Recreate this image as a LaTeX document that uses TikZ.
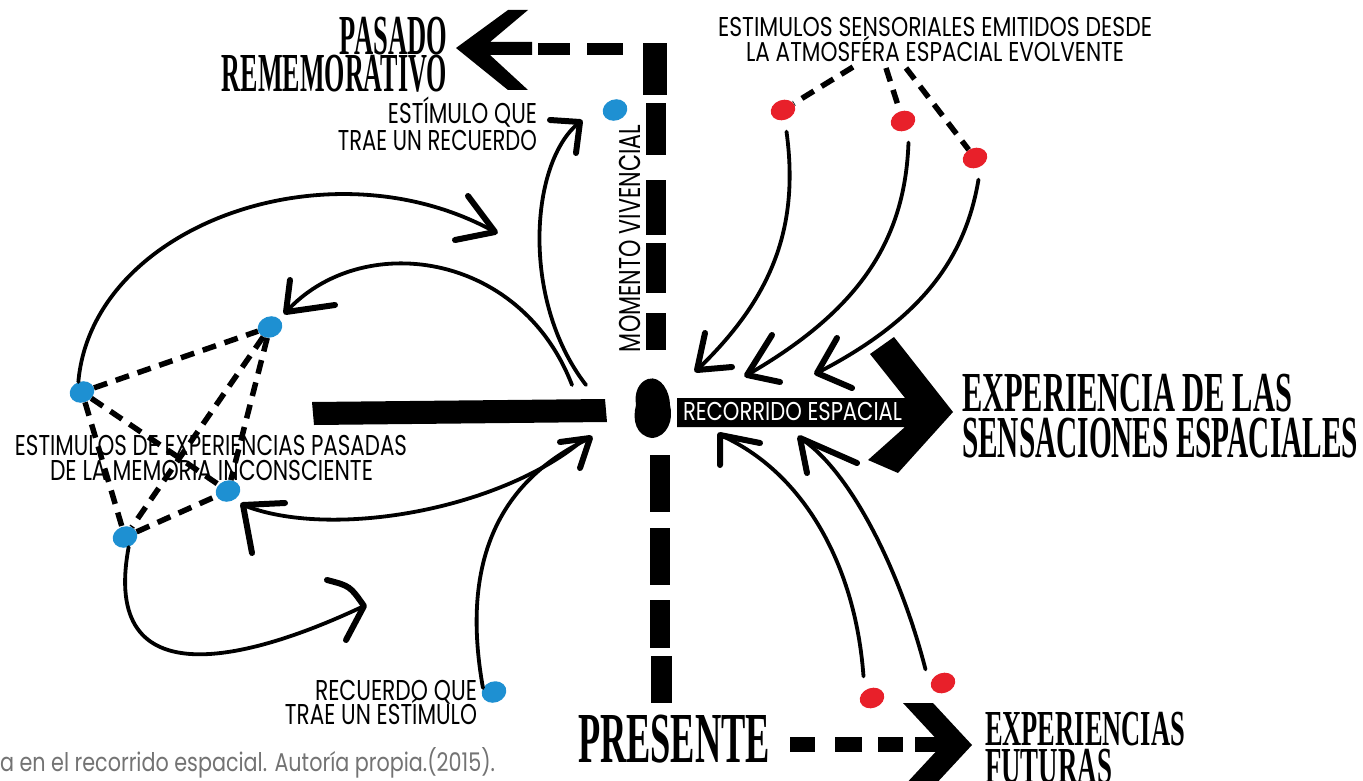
\documentclass[tikz,border=0pt]{standalone}
\usepackage{fontspec}
\usepackage{graphicx}
\newfontfamily\labelfont{Poppins}
\newfontfamily\titlefont{Liberation Serif}
\usetikzlibrary{shapes.geometric}
\definecolor{dotblue}{RGB}{30,144,210}
\definecolor{dotred}{RGB}{232,32,42}
\definecolor{capgray}{RGB}{115,115,115}
% text scaled to a given width and cap height (in pt = px)
\newcommand{\capfit}[3]{\resizebox{#1pt}{#2pt}{\smash{#3}\vphantom{E}}}
\newcommand{\lowfit}[3]{\resizebox{#1pt}{#2pt}{\smash{#3}\vphantom{l}}}
\begin{document}
\begin{tikzpicture}[x=1pt,y=-1pt,
  tx/.style={inner sep=0pt,outer sep=0pt},
  lbl/.style={tx,font=\labelfont},
  ttl/.style={tx,font=\titlefont\bfseries},
  bdot/.style={ellipse,fill=dotblue,minimum width=25pt,minimum height=21pt,inner sep=0pt,rotate=20},
  rdot/.style={ellipse,fill=dotred,minimum width=25pt,minimum height=20pt,inner sep=0pt,rotate=20},
  dashline/.style={line width=5.5pt,dash pattern=on 14pt off 9pt},
  curve/.style={line width=3.8pt,line cap=round},
  head/.style={line width=6pt,line cap=round,line join=round},
  blk/.style={fill=black}]
\useasboundingbox (0,0) rectangle (1363,781);
\fill[white] (0,0) rectangle (1363,781);

% ---------- stimulus dots ----------
\node[bdot] (b1) at (615,110) {};
\node[bdot] (b2) at (270,327) {};
\node[bdot] (b3) at (82,392) {};
\node[bdot] (b4) at (228,491) {};
\node[bdot] (b5) at (125,537) {};
\node[bdot] (b6) at (494,692) {};
\node[rdot] (r1) at (783,110) {};
\node[rdot] (r2) at (903,121) {};
\node[rdot] (r3) at (975,158) {};
\node[rdot] (r4) at (872,698) {};
\node[rdot] (r5) at (943,683) {};

% ---------- memory network ----------
\draw[dashline] (b3) -- (b2);
\draw[dashline] (b3) -- (b5);
\draw[dashline] (b3) -- (b4);
\draw[dashline] (b2) -- (b5);
\draw[dashline] (b2) -- (b4);
\draw[dashline] (b5) -- (b4);

% ---------- sensory stimuli links ----------
\coordinate (s1) at (853,67);
\coordinate (s2) at (886,68);
\coordinate (s3) at (906,68);
\draw[dashline] (s1) -- (r1);
\draw[dashline] (s2) -- (r2);
\draw[dashline] (s3) -- (r3);

% ---------- curved arrows ----------
% a: deep memory towards the present
\coordinate (at) at (495,232); \coordinate (aa1) at (468,196); \coordinate (aa2) at (455,240);
\draw[curve] (b3.north) .. controls (92,225) and (330,140) .. (at);
\draw[head] (aa1) -- (at) -- (aa2);
% b: present back to memory
\coordinate (bs) at (572,385);
\coordinate (bt) at (286,312); \coordinate (ba1) at (290,280); \coordinate (ba2) at (335,305);
\draw[curve] (bs) .. controls (520,250) and (360,230) .. (bt);
\draw[head] (ba1) -- (bt) -- (ba2);
% c: present to the stimulus that brings a memory
\coordinate (cs) at (586,385);
\coordinate (ct) at (580,122); \coordinate (ca1) at (550,120); \coordinate (ca2) at (576,153);
\draw[curve] (cs) .. controls (520,300) and (530,160) .. (ct);
\draw[head] (ca1) -- (ct) -- (ca2);
% d: present to memory below
\coordinate (ds) at (583,440);
\coordinate (dt) at (243,505); \coordinate (da1) at (285,503); \coordinate (da2) at (252,553);
\draw[curve] (ds) .. controls (500,510) and (330,540) .. (dt);
\draw[head] (da1) -- (dt) -- (da2);
% e: memory loop
\coordinate (et) at (364,606); \coordinate (ea1) at (327,580); \coordinate (ea2) at (346,640);
\draw[curve] (b5.south) .. controls (100,700) and (250,660) .. (et);
\draw[head] (ea1) .. controls (350,586) .. (et) -- (ea2);
% f: memory that brings a stimulus
\coordinate (ft) at (590,438); \coordinate (fa1) at (560,442); \coordinate (fa2) at (580,468);
\draw[curve] (b6.north west) .. controls (460,560) and (500,480) .. (ft);
\draw[head] (fa1) -- (ft) -- (fa2);
% g, h, i: sensory stimuli to the path
\coordinate (gt) at (697,370); \coordinate (ga1) at (705,333); \coordinate (ga2) at (732,367);
\draw[curve] (r1.south) ++(0,12) .. controls (800,230) and (770,300) .. (gt);
\draw[head] (ga1) -- (gt) -- (ga2);
\coordinate (ht) at (747,375); \coordinate (ha1) at (772,335); \coordinate (ha2) at (780,382);
\draw[curve] (r2.south) ++(2,12) .. controls (905,240) and (860,310) .. (ht);
\draw[head] (ha1) -- (ht) -- (ha2);
\coordinate (it) at (817,373); \coordinate (ia1) at (837,338); \coordinate (ia2) at (852,388);
\draw[curve] (r3.south) ++(0,12) .. controls (965,260) and (920,320) .. (it);
\draw[head] (ia1) -- (it) -- (ia2);
% j, k: future experiences to the path
\coordinate (jt) at (720,435); \coordinate (ja1) at (720,465); \coordinate (ja2) at (760,443);
\draw[curve] (r4.north) ++(-5,-12) .. controls (855,560) and (800,470) .. (jt);
\draw[head] (ja1) -- (jt) -- (ja2);
\coordinate (kt) at (800,438); \coordinate (ka1) at (807,473); \coordinate (ka2) at (857,463);
\draw[curve] (r5.north) ++(-14,-4) .. controls (900,570) and (850,470) .. (kt);
\draw[head] (ka1) -- (kt) -- (ka2);

% ---------- time axis (vertical) ----------
\fill[blk] (538,43) rectangle (570,55);
\fill[blk] (587,43) rectangle (623,55);
\fill[blk] (643,43) rectangle (667,95);
\fill[blk] (646,103) rectangle (666,155);
\fill[blk] (646,180) rectangle (666,235);
\fill[blk] (646,243) rectangle (666,293);
\fill[blk] (646,313) rectangle (666,350);
\fill[blk] (650,455) rectangle (670,512);
\fill[blk] (650,528) rectangle (670,585);
\fill[blk] (650,600) rectangle (670,648);
\fill[blk] (651,656) rectangle (672,703);
% present moment
\fill[blk] (648,379) .. controls (661,375) and (670,392) .. (670,405)
  .. controls (674,420) and (667,437) .. (652,438)
  .. controls (636,436) and (632,420) .. (636,405)
  .. controls (634,392) and (639,382) .. (648,379) -- cycle;
% past arrowhead
\fill[blk] (456,48) -- (508,10) -- (528,10) -- (490,42) -- (532,42) -- (532,55)
  -- (490,55) -- (528,90) -- (508,90) -- cycle;
% future arrow
\fill[blk] (790,737) rectangle (815,752);
\fill[blk] (835,737) rectangle (862,752);
\fill[blk] (878,737) rectangle (903,752);
\fill[blk] (903,703) -- (933,703) -- (972,745) -- (933,787) -- (903,787) -- (942,745) -- cycle;
\fill[blk] (915,737) rectangle (945,752);
% spatial path
\fill[blk] (312,402) -- (605,399) -- (607,422) -- (314,425) -- cycle;
\fill[blk] (677,398) -- (905,398) -- (870,354) -- (894,337) -- (953,412) -- (898,473)
  -- (868,460) -- (905,427) -- (677,427) -- cycle;

% ---------- labels ----------
\node[lbl,anchor=base west] (t1) at (718,37) {\capfit{434}{19}{ESTIMULOS SENSORIALES EMITIDOS DESDE}};
\node[lbl,anchor=base west] (t2) at (746,62) {\capfit{378}{19}{LA ATMOSFÉRA ESPACIAL EVOLVENTE}};
\node[lbl,anchor=base east] (t3) at (537,124) {\capfit{149}{20}{ESTÍMULO QUE}};
\node[lbl,anchor=base east] (t4) at (537,150) {\capfit{199}{20}{TRAE UN RECUERDO}};
\node[lbl,anchor=base west,rotate=90] (t5) at (640,352) {\capfit{227}{21}{MOMENTO VIVENCIAL}};
\node[lbl,anchor=base west,text=white] (t6) at (683,420) {\capfit{219}{18}{RECORRIDO ESPACIAL}};
\node[lbl,anchor=base west] (t7) at (15,455) {\capfit{392}{20}{ESTIMULOS DE EXPERIENCIAS PASADAS}};
\node[lbl,anchor=base west] (t8) at (50,480) {\capfit{323}{20}{DE LA MEMORIA INCONSCIENTE}};
\node[lbl,anchor=base east] (t9) at (477,700) {\capfit{162}{20}{RECUERDO QUE}};
\node[lbl,anchor=base east] (t10) at (477,724) {\capfit{192}{20}{TRAE UN ESTÍMULO}};
\node[lbl,anchor=base west,text=capgray] (t11) at (0,771) {\lowfit{495}{19}{a en el recorrido espacial. Autoría propia.(2015).}};

\node[ttl,anchor=base east] (h1) at (447,55) {\capfit{107}{37}{PASADO}};
\node[ttl,anchor=base east] (h2) at (447,92) {\capfit{225}{36}{REMEMORATIVO}};
\node[ttl,anchor=base west] (h3) at (962,411) {\capfit{330}{37}{EXPERIENCIA DE LAS}};
\node[ttl,anchor=base west] (h4) at (962,457) {\capfit{396}{39}{SENSACIONES ESPACIALES}};
\node[ttl,anchor=base west] (h5) at (578,762) {\capfit{192}{47}{PRESENTE}};
\node[ttl,anchor=base west] (h6) at (985,745) {\capfit{200}{33}{EXPERIENCIAS}};
\node[ttl,anchor=base west] (h7) at (985,783) {\capfit{127}{34}{FUTURAS}};
\end{tikzpicture}
\end{document}
